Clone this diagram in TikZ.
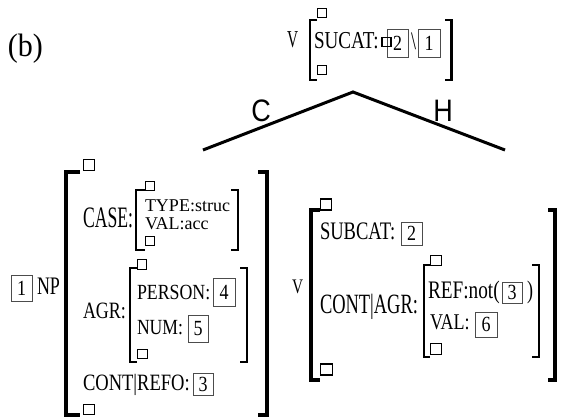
\documentclass[tikz,border=0pt]{standalone}
\usepackage{fontspec}
\usepackage{graphicx}
\setmainfont{Liberation Serif}
\newfontfamily\labsans{Liberation Sans}
\newcommand\fsz{\fontsize{18}{18}\selectfont}
\newcommand\tx[3]{\scalebox{#1}[#2]{#3}}
\newcommand\dg[1]{\scalebox{1}[1.2]{#1}}
\begin{document}
\begin{tikzpicture}[x=1pt,y=-1pt,
  lbl/.style={anchor=base west,inner sep=0pt,outer sep=0pt,font=\fsz},
  sq/.style={draw,line width=1.2pt,minimum width=9.5pt,minimum height=9.5pt,inner sep=0pt},
  numbox/.style={draw=black!70,line width=0.8pt,inner sep=0pt,font=\fsz},
  bigbr/.style={line width=4pt},
  midbr/.style={line width=2.6pt},
  smallbr/.style={line width=2pt},
  branch/.style={line width=3pt},
  edgelab/.style={inner sep=0pt,font=\labsans\fontsize{27}{27}\selectfont}
]
\useasboundingbox (0,0) rectangle (562,416);

% (b)
\node[lbl,font=\fontsize{30}{30}\selectfont] (lb) at (8,56) {\tx{1}{1.08}{(b)}};

% ---------- top AVM ----------
\node[lbl] (vtop) at (287,47) {\tx{0.85}{1.35}{V}};
\draw[midbr] (317,20) -- (310,20) -- (310,80) -- (317,80);
\draw[midbr] (445,20) -- (451.5,20) -- (451.5,80) -- (445,80);
\node[sq] (tsq1) at (322,13) {};
\node[sq] (tsq2) at (322,70) {};
\node[lbl] (sucat) at (314,48) {\tx{1.06}{1.35}{SUCAT:}};
\node[numbox,minimum width=21pt,minimum height=28pt] (tb2) at (397.5,43) {\dg{2}};
\node[sq,minimum width=9pt,minimum height=9pt] (tsq3) at (386.5,42) {};
\node[lbl] (bsl) at (411,49) {\tx{1}{1.4}{\textbackslash}};
\node[numbox,minimum width=22pt,minimum height=28pt] (tb1) at (429,43) {\dg{1}};

% ---------- tree ----------
\coordinate (apex) at (353,92);
\coordinate (lend) at (203,150);
\coordinate (rend) at (505,150);
\draw[branch,line join=miter] (lend) -- (apex) -- (rend);
\node[edgelab] (cl) at (261,111) {\tx{1}{1.15}{C}};
\node[edgelab] (hl) at (443,111) {\tx{1}{1.15}{H}};

% ---------- left AVM ----------
\node[numbox,minimum width=21pt,minimum height=26pt] (np1) at (21.5,288) {\dg{1}};
\node[lbl] (np) at (37,294) {\tx{1}{1.4}{NP}};
\draw[bigbr] (80,172) -- (66,172) -- (66,415) -- (80,415);
\draw[bigbr] (258,172) -- (267,172) -- (267,415) -- (258,415);
\node[sq,minimum width=11pt,minimum height=10.5pt] (lsq1) at (89,165) {};
\node[sq,minimum width=11pt,minimum height=10.5pt] (lsq2) at (89,409.5) {};

\node[lbl] (case) at (83,227) {\tx{0.98}{1.65}{CASE:}};
\draw[smallbr] (145,190) -- (136,190) -- (136,250) -- (145,250);
\draw[smallbr] (231,190) -- (238,190) -- (238,250) -- (231,250);
\node[sq] (csq1) at (150,186) {};
\node[sq] (csq2) at (150,241) {};
\node[lbl,text height=12pt,text depth=0pt] (type) at (145,211) {TYPE:struc};
\node[lbl,text height=12pt,text depth=0pt] (valacc) at (145,229) {VAL:acc};

\node[lbl] (agr) at (83,318) {\tx{1}{1.3}{AGR:}};
\draw[smallbr] (137,268) -- (129.5,268) -- (129.5,362) -- (137,362);
\draw[smallbr] (240,268) -- (246.5,268) -- (246.5,362) -- (240,362);
\node[sq] (asq1) at (142,264.5) {};
\node[sq] (asq2) at (142.5,354) {};
\node[lbl] (person) at (137,299) {\tx{0.99}{1.2}{PERSON:}};
\node[numbox,minimum width=22pt,minimum height=28pt] (b4) at (224,292) {\dg{4}};
\node[lbl] (num) at (137,334) {\tx{0.98}{1.2}{NUM:}};
\node[numbox,minimum width=20pt,minimum height=27pt] (b5) at (198,328.5) {\dg{5}};

\node[lbl] (contref) at (83,390) {\tx{1.03}{1.3}{CONT|REFO:}};
\node[numbox,minimum width=20pt,minimum height=22pt] (b3l) at (203,384) {\dg{3}};

% ---------- right AVM ----------
\node[lbl] (vright) at (292,293) {\tx{0.85}{1.15}{V}};
\draw[bigbr] (320,210) -- (311,210) -- (311,380) -- (320,380);
\draw[bigbr] (548,210) -- (555,210) -- (555,380) -- (548,380);
\node[sq,minimum width=11.5pt,minimum height=11pt] (rsq1) at (326,204.5) {};
\node[sq,minimum width=11.5pt,minimum height=11pt] (rsq2) at (326.5,369.5) {};

\node[lbl] (subcat) at (320,239) {\tx{1.03}{1.4}{SUBCAT:}};
\node[numbox,minimum width=21pt,minimum height=23pt] (rb2) at (411.5,233.5) {\dg{2}};

\node[lbl] (contagr) at (320,313) {\tx{1.025}{1.55}{CONT|AGR:}};
\draw[smallbr] (430,265) -- (423.5,265) -- (423.5,357) -- (430,357);
\draw[smallbr] (532,265) -- (538.5,265) -- (538.5,357) -- (532,357);
\node[sq,minimum width=11pt,minimum height=10.5pt] (gsq1) at (436,260.5) {};
\node[sq,minimum width=11pt,minimum height=10.5pt] (gsq2) at (436,349) {};
\node[lbl] (refnot) at (428,298) {\tx{1.07}{1.4}{REF:not(}};
\node[numbox,minimum width=20pt,minimum height=21pt] (rb3) at (512,292.5) {\dg{3}};
\node[lbl] (rpar) at (527,298) {\tx{1}{1.4}{)}};
\node[lbl] (val) at (430,329) {\tx{1}{1.25}{VAL:}};
\node[numbox,minimum width=22pt,minimum height=25pt] (b6) at (486,324.5) {\dg{6}};
\end{tikzpicture}
\end{document}
